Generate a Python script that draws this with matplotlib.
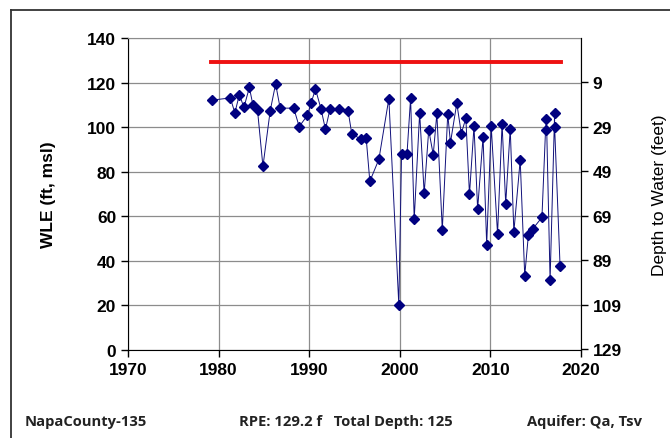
import matplotlib
matplotlib.use('Agg')
import matplotlib.pyplot as plt
from matplotlib.lines import Line2D

# Water level elevation readings (decimal year, ft msl)
years = [1979.3, 1981.3, 1981.8, 1982.3, 1982.8, 1983.4, 1983.8, 1984.3, 1984.9, 1985.7,
         1986.3, 1986.8, 1988.3, 1988.9, 1989.8, 1990.2, 1990.7, 1991.3, 1991.8, 1992.3,
         1993.3, 1994.3, 1994.7, 1995.7, 1996.3, 1996.7, 1997.7, 1998.8, 1999.9, 2000.2,
         2000.8, 2001.2, 2001.6, 2002.2, 2002.7, 2003.2, 2003.7, 2004.1, 2004.7, 2005.3,
         2005.6, 2006.3, 2006.8, 2007.3, 2007.7, 2008.2, 2008.6, 2009.2, 2009.6, 2010.1,
         2010.8, 2011.3, 2011.7, 2012.2, 2012.6, 2013.3, 2013.8, 2014.2, 2014.7, 2015.7,
         2016.1, 2016.2, 2016.6, 2017.1, 2017.1, 2017.7]
wle = [112.2, 113.2, 106.5, 114.7, 108.9, 117.9, 109.9, 107.7, 82.4, 107.4,
       119.5, 108.6, 108.6, 100.3, 105.3, 110.7, 117.2, 108.4, 99.1, 108.1,
       108.4, 107.4, 97.2, 94.6, 95.0, 75.7, 85.6, 112.9, 20.1, 87.8,
       87.8, 113.1, 58.7, 106.5, 70.3, 98.8, 87.7, 106.2, 53.8, 106.0,
       93.1, 110.8, 97.2, 104.1, 69.8, 100.5, 63.2, 95.7, 47.3, 100.4,
       52.0, 101.5, 65.6, 99.4, 53.0, 85.3, 33.3, 51.4, 54.4, 59.5,
       99.0, 103.9, 31.3, 106.5, 100.2, 37.7]

rpe = 129.2
rpe_span = [1979.2, 2017.8]
depth_ticks = [9, 29, 49, 69, 89, 109, 129]

plt.rcParams['font.family'] = ['Liberation Sans', 'DejaVu Sans']

fig = plt.figure(figsize=(6.7, 4.39), dpi=100)
ax = fig.add_axes([0.191, 0.201, 0.676, 0.7095])

ax.plot(rpe_span, [rpe, rpe], color='#ee1111', lw=2.8, zorder=3)
ax.plot(years, wle, color='#10107a', lw=0.7, marker='D', ms=5.3,
        mfc='#000080', mec='#000080', zorder=4)

ax.set_xlim(1970, 2020)
ax.set_ylim(0, 140)
ax.set_xticks(range(1970, 2021, 10))
ax.set_yticks(range(0, 141, 20))
ax.grid(True, color='#8c8c8c', lw=0.9)
ax.set_axisbelow(True)
ax.tick_params(labelsize=12.5, direction='out', length=5, width=1)
for lab in ax.get_xticklabels() + ax.get_yticklabels():
    lab.set_fontweight('bold')
ax.spines['top'].set_color('#8c8c8c')
ax.spines['right'].set_color('#8c8c8c')
ax.set_ylabel('WLE (ft, msl)', fontsize=12.5, fontweight='bold', labelpad=22)

ax2 = ax.twinx()
ax2.set_ylim(0, 140)
ax2.set_yticks([rpe - d for d in depth_ticks])
ax2.set_yticklabels([str(d) for d in depth_ticks], fontsize=12.5, fontweight='bold')
ax2.tick_params(direction='out', length=5, width=1)
ax2.spines['right'].set_color('black')
ax2.spines['top'].set_visible(False)
ax2.spines['left'].set_visible(False)
ax2.spines['bottom'].set_visible(False)
ax2.set_ylabel('Depth to Water (feet)', fontsize=12.5, labelpad=22)

# outer frame (left and top edges visible)
fig.add_artist(Line2D([11 / 670, 11 / 670], [0, 1 - 11 / 439], color='#333333', lw=1.3))
fig.add_artist(Line2D([11 / 670, 1], [1 - 11 / 439, 1 - 11 / 439], color='#333333', lw=1.3))

foot = dict(fontsize=10.6, family=['Open Sans', 'DejaVu Sans'], fontweight='bold',
            color='#222222', va='center')
fig.text(25 / 670, 1 - 422 / 439, 'NapaCounty-135', ha='left', **foot)
fig.text(346 / 670, 1 - 422 / 439, 'RPE: 129.2 f   Total Depth: 125', ha='center', **foot)
fig.text(642 / 670, 1 - 422 / 439, 'Aquifer: Qa, Tsv', ha='right', **foot)

fig.savefig('out.png', dpi=100)
